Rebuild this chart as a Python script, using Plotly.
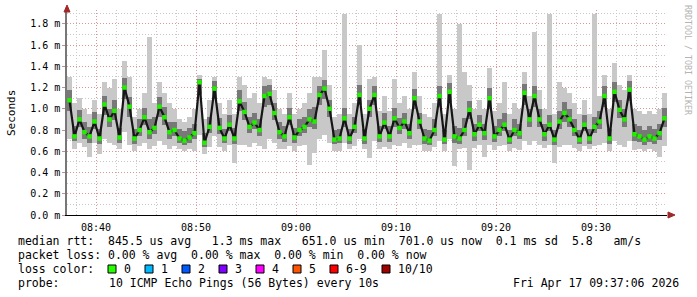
import numpy as np
import pandas as pd
import plotly.graph_objects as go

# ---------------- data (ms), one value per 30 s step ----------------
t_start = "2026-04-17 08:37:06"
t_end = "2026-04-17 09:37:06"
times = pd.date_range("2026-04-17 08:37:21", periods=120, freq="30s")

median = [1.08, 0.74, 0.90, 0.78, 0.74, 0.88, 0.72, 1.04, 0.90, 0.98,
          0.73, 1.20, 1.02, 0.72, 0.80, 0.92, 0.78, 0.82, 1.02, 0.92,
          0.78, 0.80, 0.72, 0.70, 0.73, 0.77, 1.25, 0.68, 0.83, 1.19,
          0.82, 0.72, 0.85, 0.72, 1.07, 0.97, 0.83, 0.87, 0.80, 1.12,
          1.14, 0.96, 0.78, 0.74, 0.92, 0.73, 0.80, 0.83, 0.90, 0.88,
          1.13, 1.19, 1.00, 0.71, 0.72, 0.91, 0.72, 0.83, 1.13, 0.72,
          1.00, 1.13, 0.74, 0.87, 0.74, 0.91, 0.82, 0.88, 0.77, 1.10,
          0.88, 0.72, 0.70, 0.80, 1.12, 0.71, 1.16, 0.74, 0.72, 0.80,
          0.99, 0.76, 0.85, 0.77, 1.10, 0.74, 0.80, 0.85, 0.71, 0.80,
          0.77, 1.15, 0.90, 1.12, 0.90, 0.76, 0.85, 0.71, 0.88, 0.96,
          0.90, 0.80, 0.71, 0.85, 0.72, 0.83, 0.88, 1.12, 0.72, 1.16,
          0.99, 0.90, 1.18, 0.76, 0.74, 0.71, 0.74, 0.72, 0.77, 0.91]

ping_max = [1.30, 1.05, 1.10, 1.00, 0.95, 1.08, 0.95, 1.25, 1.20, 1.28,
            1.00, 1.45, 1.30, 0.92, 1.00, 1.15, 1.68, 1.05, 1.25, 1.15,
            1.05, 1.00, 0.90, 0.88, 0.92, 1.00, 1.32, 0.90, 1.08, 1.30,
            1.05, 0.95, 1.08, 0.95, 1.30, 1.22, 1.10, 1.15, 1.05, 1.30,
            1.28, 1.18, 1.00, 0.95, 1.15, 0.95, 1.00, 1.05, 1.15, 1.30,
            1.30, 1.55, 1.22, 0.92, 0.95, 1.89, 0.95, 1.05, 1.60, 0.95,
            1.28, 1.30, 0.98, 1.12, 0.98, 1.28, 1.05, 1.12, 1.00, 1.35,
            1.12, 0.95, 0.92, 1.05, 1.89, 0.95, 1.32, 1.00, 1.80, 1.35,
            1.22, 1.00, 1.08, 1.00, 1.38, 0.98, 1.05, 1.25, 0.95, 1.05,
            1.00, 1.35, 1.12, 1.72, 1.18, 1.00, 1.89, 0.95, 1.25, 1.20,
            1.15, 1.05, 0.95, 1.08, 0.95, 1.89, 1.12, 1.32, 1.00, 1.43,
            1.22, 1.18, 1.32, 1.00, 0.98, 0.95, 0.98, 0.95, 1.00, 1.15]

ping_min = [0.72, 0.62, 0.68, 0.64, 0.55, 0.68, 0.57, 0.72, 0.68, 0.66,
            0.62, 0.78, 0.66, 0.60, 0.65, 0.68, 0.62, 0.65, 0.70, 0.66,
            0.62, 0.65, 0.62, 0.60, 0.62, 0.60, 0.75, 0.57, 0.64, 0.74,
            0.64, 0.60, 0.66, 0.49, 0.66, 0.66, 0.64, 0.68, 0.65, 0.62,
            0.72, 0.68, 0.62, 0.62, 0.65, 0.60, 0.65, 0.66, 0.47, 0.58,
            0.72, 0.75, 0.68, 0.60, 0.60, 0.68, 0.62, 0.65, 0.72, 0.62,
            0.54, 0.70, 0.62, 0.64, 0.62, 0.66, 0.65, 0.68, 0.63, 0.66,
            0.66, 0.60, 0.60, 0.64, 0.70, 0.60, 0.72, 0.46, 0.62, 0.63,
            0.42, 0.63, 0.66, 0.55, 0.66, 0.61, 0.65, 0.66, 0.60, 0.63,
            0.61, 0.70, 0.66, 0.70, 0.66, 0.63, 0.66, 0.49, 0.64, 0.66,
            0.66, 0.63, 0.60, 0.65, 0.62, 0.65, 0.66, 0.68, 0.60, 0.70,
            0.66, 0.64, 0.70, 0.61, 0.62, 0.60, 0.62, 0.60, 0.55, 0.65]

q_low = [0.98, 0.70, 0.83, 0.72, 0.68, 0.81, 0.67, 0.94, 0.83, 0.89,
         0.68, 1.09, 0.92, 0.67, 0.74, 0.85, 0.72, 0.76, 0.92, 0.85,
         0.72, 0.74, 0.68, 0.66, 0.68, 0.72, 1.14, 0.64, 0.77, 1.09,
         0.76, 0.68, 0.79, 0.67, 0.98, 0.89, 0.77, 0.81, 0.74, 1.02,
         1.04, 0.89, 0.72, 0.69, 0.85, 0.68, 0.74, 0.77, 0.83, 0.81,
         1.04, 1.09, 0.92, 0.67, 0.68, 0.83, 0.67, 0.77, 1.04, 0.67,
         0.92, 1.04, 0.69, 0.81, 0.69, 0.83, 0.76, 0.81, 0.72, 1.00,
         0.81, 0.67, 0.66, 0.74, 1.02, 0.67, 1.06, 0.68, 0.67, 0.74,
         0.90, 0.70, 0.79, 0.71, 1.00, 0.69, 0.74, 0.79, 0.67, 0.74,
         0.72, 1.04, 0.83, 1.02, 0.83, 0.70, 0.79, 0.66, 0.81, 0.88,
         0.83, 0.74, 0.67, 0.79, 0.67, 0.77, 0.81, 1.02, 0.67, 1.06,
         0.91, 0.83, 1.07, 0.70, 0.69, 0.66, 0.69, 0.67, 0.71, 0.83]

q_high = [1.18, 0.84, 0.99, 0.88, 0.83, 0.97, 0.81, 1.12, 1.00, 1.08,
          0.82, 1.29, 1.11, 0.81, 0.90, 1.01, 0.90, 0.92, 1.11, 1.02,
          0.88, 0.88, 0.81, 0.79, 0.82, 0.86, 1.28, 0.77, 0.92, 1.26,
          0.91, 0.81, 0.94, 0.82, 1.18, 1.06, 0.92, 0.96, 0.90, 1.21,
          1.22, 1.05, 0.88, 0.84, 1.01, 0.82, 0.90, 0.92, 1.00, 1.02,
          1.21, 1.27, 1.08, 0.80, 0.81, 1.01, 0.81, 0.92, 1.22, 0.81,
          1.08, 1.21, 0.84, 0.96, 0.84, 1.01, 0.91, 0.96, 0.86, 1.19,
          0.96, 0.81, 0.80, 0.90, 1.21, 0.80, 1.24, 0.84, 0.82, 0.91,
          1.07, 0.86, 0.94, 0.86, 1.20, 0.84, 0.90, 0.96, 0.80, 0.90,
          0.86, 1.23, 1.00, 1.21, 1.00, 0.86, 0.94, 0.80, 0.98, 1.06,
          1.00, 0.90, 0.80, 0.94, 0.81, 0.92, 0.98, 1.21, 0.81, 1.25,
          1.08, 1.00, 1.26, 0.86, 0.84, 0.80, 0.84, 0.81, 0.86, 1.01]

loss_labels = ["0", "1", "2", "3", "4", "5", "6-9", "10/10"]
loss_colors = ["#26ff00", "#00b8ff", "#0059ff", "#7e00ff", "#ff00ff",
               "#ff5500", "#ff0000", "#a10000"]

line_rtt = "median rtt:  845.5 us avg   1.3 ms max   651.0 us min  701.0 us now  0.1 ms sd  5.8   am/s"
line_loss = "packet loss: 0.00 % avg  0.00 % max  0.00 % min  0.00 % now"
line_probe_lbl = "probe:"
line_probe = "10 ICMP Echo Pings (56 Bytes) every 10s"
stamp = "Fri Apr 17 09:37:06 2026"

# ---------------- geometry ----------------
W, H = 697, 297
L, R, T, B = 67, 30, 10, 82
PW = W - L - R
PH = H - T - B


def pxx(x):
    return (x - L) / PW


def pxy(y):
    return (H - B - y) / PH


def nb(s):
    return s.replace(" ", "\u00a0")


MONO = "DejaVu Sans Mono"

lo = np.array(ping_min)
hi = np.array(ping_max)
ql = np.array(q_low)
qh = np.array(q_high)

fig = go.Figure()
fig.add_trace(go.Bar(x=times, y=hi - lo, base=lo, width=30000,
                     marker=dict(color="#c8c8c8", line=dict(width=0)),
                     hoverinfo="skip"))
fig.add_trace(go.Bar(x=times, y=qh - ql, base=ql, width=30000,
                     marker=dict(color="#787878", line=dict(width=0)),
                     hoverinfo="skip"))
fig.add_trace(go.Scatter(x=times, y=median, mode="lines+markers",
                         line=dict(color="#161616", width=2.2),
                         marker=dict(symbol="square", size=4.5, color="#22f000",
                                     line=dict(width=0))))

major_grid = "#e09595"
minor_grid = "#c8c8c8"
dash = "1px,2px"

fig.update_layout(
    width=W, height=H,
    margin=dict(l=L, r=R, t=T, b=B, pad=0),
    paper_bgcolor="white", plot_bgcolor="white",
    barmode="overlay", bargap=0, showlegend=False,
    font=dict(family=MONO, size=10, color="black"),
    xaxis=dict(
        type="date", range=[t_start, t_end],
        tick0="2026-04-17 08:40:00", dtick=600000, tickformat="%H:%M",
        showgrid=True, gridcolor=major_grid, griddash=dash, gridwidth=1,
        minor=dict(dtick=120000, tick0="2026-04-17 08:40:00", showgrid=True,
                   gridcolor=minor_grid, griddash=dash, gridwidth=1),
        showline=True, linecolor="black", linewidth=1,
        ticks="", ticklabelstandoff=3, zeroline=False,
        tickfont=dict(family=MONO, size=10),
    ),
    yaxis=dict(
        range=[0, 1.93], tickmode="linear", tick0=0, dtick=0.2,
        tickformat=".1f", ticksuffix=" m",
        showgrid=True, gridcolor=major_grid, griddash=dash, gridwidth=1,
        minor=dict(dtick=0.1, tick0=0, showgrid=True, gridcolor=minor_grid,
                   griddash=dash, gridwidth=1),
        showline=True, linecolor="#777777", linewidth=1.5,
        ticks="outside", ticklen=3, tickcolor="#d08a8a",
        zeroline=False, tickfont=dict(family=MONO, size=10),
    ),
)

ann = []
ann.append(dict(text="Seconds", x=pxx(11), y=pxy(113), xref="paper", yref="paper",
                textangle=-90, showarrow=False, xanchor="center", yanchor="middle",
                font=dict(family=MONO, size=11, color="black")))
ann.append(dict(text=nb("RRDTOOL / TOBI OETIKER"), x=pxx(688), y=pxy(60),
                xref="paper", yref="paper", textangle=90, showarrow=False,
                xanchor="center", yanchor="middle",
                font=dict(family=MONO, size=8.3, color="#b4b4b4")))

FS = 11.5
rows = [(line_rtt, 16, 241), (line_loss, 16, 255), ("loss color:", 16, 269),
        (line_probe_lbl, 16, 283), (line_probe, 107, 283)]
for txt, x, y in rows:
    ann.append(dict(text=nb(txt), x=pxx(x), y=pxy(y), xref="paper", yref="paper",
                    showarrow=False, xanchor="left", yanchor="middle",
                    font=dict(family=MONO, size=FS, color="black")))
ann.append(dict(text=nb(stamp), x=pxx(681), y=pxy(283), xref="paper", yref="paper",
                showarrow=False, xanchor="right", yanchor="middle",
                font=dict(family=MONO, size=FS, color="black")))

shapes = []
box_x = [108, 145, 182, 219, 256, 293, 330, 382]
for bx, lab, col in zip(box_x, loss_labels, loss_colors):
    shapes.append(dict(type="rect", xref="paper", yref="paper",
                       x0=pxx(bx), x1=pxx(bx + 8), y0=pxy(273), y1=pxy(265),
                       fillcolor=col, line=dict(color="black", width=1)))
    ann.append(dict(text=nb(lab), x=pxx(bx + 14), y=pxy(269), xref="paper",
                    yref="paper", showarrow=False, xanchor="left", yanchor="middle",
                    font=dict(family=MONO, size=FS, color="black")))

# axis arrows
arrow_col = "#a02828"
shapes.append(dict(type="path", xref="paper", yref="paper",
                   path=f"M {pxx(64)} {pxy(12)} L {pxx(70)} {pxy(12)} L {pxx(67)} {pxy(5)} Z",
                   fillcolor=arrow_col, line=dict(color=arrow_col, width=1)))
shapes.append(dict(type="path", xref="paper", yref="paper",
                   path=f"M {pxx(668)} {pxy(212)} L {pxx(668)} {pxy(218)} L {pxx(675)} {pxy(215)} Z",
                   fillcolor=arrow_col, line=dict(color=arrow_col, width=1)))

fig.update_layout(annotations=ann, shapes=shapes)
fig.write_html("out.html")
